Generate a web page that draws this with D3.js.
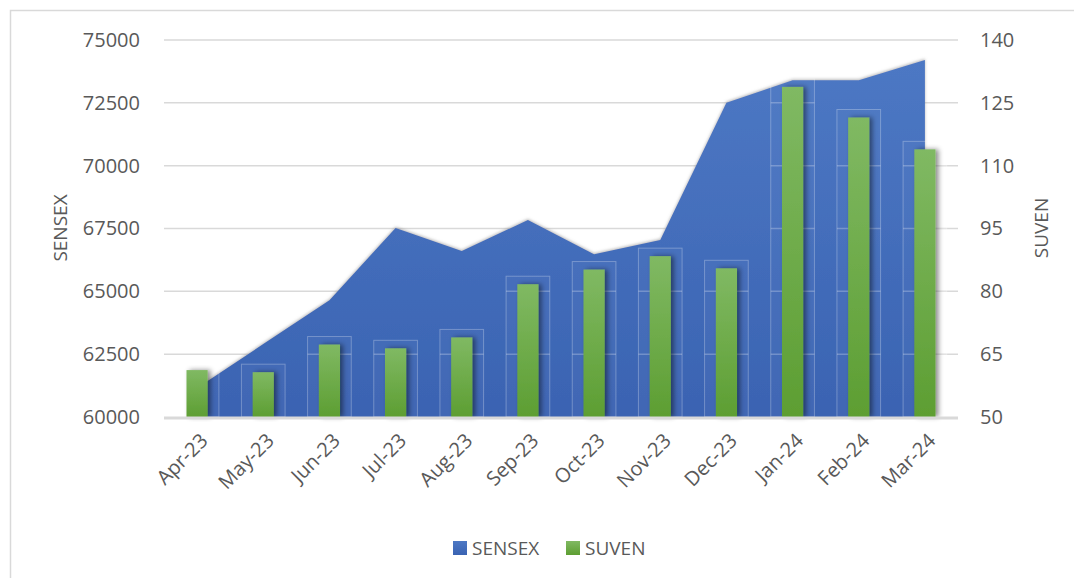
<!DOCTYPE html>
<html>
<head>
<meta charset="utf-8">
<script src="https://cdn.jsdelivr.net/npm/d3@7"></script>
<style>
  body { margin: 0; background: #fff; }
  svg text { font-family: "Open Sans", sans-serif; fill: #595959; }
</style>
</head>
<body>
<div id="chart"></div>
<script>
var months = ['Apr-23', 'May-23', 'Jun-23', 'Jul-23', 'Aug-23', 'Sep-23',
    'Oct-23', 'Nov-23', 'Dec-23', 'Jan-24', 'Feb-24', 'Mar-24'];
var sensex = [61150, 62900, 64650, 67520, 66600, 67840,
    66480, 67040, 72500, 73400, 73400, 74200];
var suven = [61.2, 60.7, 67.3, 66.4, 69.0, 81.7,
    85.2, 88.4, 85.5, 128.8, 121.5, 113.9];
var sensexTicks = [60000, 62500, 65000, 67500, 70000, 72500, 75000];
var suvenTicks = [50, 65, 80, 95, 110, 125, 140];

var chart_width = 1074;
var chart_height = 578;
var plot_left = 164, plot_right = 958, plot_top = 40, plot_bottom = 417;

var svg = d3.select('#chart')
    .append('svg')
    .attr('width', chart_width)
    .attr('height', chart_height);

var defs = svg.append('defs');

var blueGrad = defs.append('linearGradient')
    .attr('id', 'blue-grad')
    .attr('x1', 0).attr('y1', 0).attr('x2', 0).attr('y2', 1);
blueGrad.append('stop').attr('offset', '0%').attr('stop-color', '#4d78c4');
blueGrad.append('stop').attr('offset', '100%').attr('stop-color', '#3a63b2');

var greenGrad = defs.append('linearGradient')
    .attr('id', 'green-grad')
    .attr('x1', 0).attr('y1', 0).attr('x2', 0).attr('y2', 1);
greenGrad.append('stop').attr('offset', '0%').attr('stop-color', '#80b963');
greenGrad.append('stop').attr('offset', '100%').attr('stop-color', '#5d9e32');

defs.append('filter')
    .attr('id', 'bar-shadow')
    .attr('x', '-50%').attr('y', '-10%').attr('width', '200%').attr('height', '120%')
    .append('feDropShadow')
    .attr('dx', 3).attr('dy', 0).attr('stdDeviation', 2.5)
    .attr('flood-color', '#000').attr('flood-opacity', 0.45);

defs.append('filter')
    .attr('id', 'area-shadow')
    .attr('x', '-5%').attr('y', '-10%').attr('width', '110%').attr('height', '120%')
    .append('feDropShadow')
    .attr('dx', 0).attr('dy', -1).attr('stdDeviation', 1.5)
    .attr('flood-color', '#888').attr('flood-opacity', 0.6);

// chart border
svg.append('rect')
    .attr('x', 10.5).attr('y', 10.5)
    .attr('width', 1100).attr('height', 600)
    .attr('fill', 'none')
    .attr('stroke', '#d9d9d9')
    .attr('stroke-width', 1.5);

var x_scale = d3.scaleBand()
    .domain(months)
    .range([plot_left, plot_right]);

var y_left = d3.scaleLinear()
    .domain([60000, 75000])
    .range([plot_bottom, plot_top]);

var y_right = d3.scaleLinear()
    .domain([50, 140])
    .range([plot_bottom, plot_top]);

// gridlines
svg.append('g')
    .selectAll('line')
    .data(sensexTicks.slice(1))
    .enter()
    .append('line')
    .attr('x1', plot_left).attr('x2', plot_right)
    .attr('y1', function (d) { return y_left(d); })
    .attr('y2', function (d) { return y_left(d); })
    .attr('stroke', '#d9d9d9')
    .attr('stroke-width', 1.5);

// left axis
var left_axis = d3.axisLeft(y_left).tickValues(sensexTicks)
    .tickFormat(d3.format('d')).tickSize(0).tickPadding(24);
svg.append('g')
    .attr('transform', 'translate(' + plot_left + ',0)')
    .call(left_axis)
    .call(function (g) { g.select('.domain').remove(); })
    .selectAll('text')
    .style('font-size', '20px');

// right axis
var right_axis = d3.axisRight(y_right).tickValues(suvenTicks).tickSize(0).tickPadding(22);
svg.append('g')
    .attr('transform', 'translate(' + plot_right + ',0)')
    .call(right_axis)
    .call(function (g) { g.select('.domain').remove(); })
    .selectAll('text')
    .style('font-size', '20px');

// SENSEX area
var area = d3.area()
    .x(function (d, i) { return x_scale(months[i]) + x_scale.bandwidth() / 2; })
    .y0(plot_bottom)
    .y1(function (d) { return y_left(d); });

svg.append('path')
    .datum(sensex)
    .attr('d', area)
    .attr('fill', 'url(#blue-grad)')
    .attr('filter', 'url(#area-shadow)');

// glow boxes around SUVEN bars
var boxW = x_scale.bandwidth() * 0.66;
var boxes = svg.append('g')
    .selectAll('g')
    .data(suven)
    .enter()
    .append('g');

boxes.append('rect')
    .attr('x', function (d, i) { return x_scale(months[i]) + (x_scale.bandwidth() - boxW) / 2; })
    .attr('y', function (d) { return y_right(d) - 8; })
    .attr('width', boxW)
    .attr('height', function (d) { return plot_bottom - y_right(d) + 8; })
    .attr('fill', 'rgba(255,255,255,0.03)')
    .attr('stroke', 'rgba(255,255,255,0.28)')
    .attr('stroke-width', 1);

boxes.each(function (d, i) {
    var g = d3.select(this);
    var x0 = x_scale(months[i]) + (x_scale.bandwidth() - boxW) / 2;
    suvenTicks.slice(1).forEach(function (t) {
        if (y_right(t) > y_right(d) - 8) {
            g.append('line')
                .attr('x1', x0).attr('x2', x0 + boxW)
                .attr('y1', y_right(t)).attr('y2', y_right(t))
                .attr('stroke', 'rgba(255,255,255,0.25)')
                .attr('stroke-width', 1.5);
        }
    });
});

// SUVEN bars
var barW = x_scale.bandwidth() * 0.32;
svg.append('g')
    .selectAll('rect')
    .data(suven)
    .enter()
    .append('rect')
    .attr('x', function (d, i) { return x_scale(months[i]) + (x_scale.bandwidth() - barW) / 2; })
    .attr('y', function (d) { return y_right(d); })
    .attr('width', barW)
    .attr('height', function (d) { return plot_bottom - y_right(d); })
    .attr('fill', 'url(#green-grad)')
    .attr('filter', 'url(#bar-shadow)');

// baseline
svg.append('line')
    .attr('x1', plot_left).attr('x2', plot_right)
    .attr('y1', plot_bottom + 1).attr('y2', plot_bottom + 1)
    .attr('stroke', '#d9d9d9')
    .attr('stroke-width', 3);

// x labels
var x_axis = d3.axisBottom(x_scale).tickSize(0).tickPadding(0);
svg.append('g')
    .attr('transform', 'translate(0,' + plot_bottom + ')')
    .call(x_axis)
    .call(function (g) { g.select('.domain').remove(); })
    .selectAll('text')
    .style('font-size', '20px')
    .style('text-anchor', 'end')
    .attr('dy', 0)
    .attr('transform', 'translate(12,25) rotate(-45)');

// axis titles
svg.append('text')
    .attr('transform', 'translate(67,228) rotate(-90)')
    .style('text-anchor', 'middle')
    .style('font-size', '19px')
    .text('SENSEX');

svg.append('text')
    .attr('transform', 'translate(1048,228) rotate(-90)')
    .style('text-anchor', 'middle')
    .style('font-size', '19px')
    .text('SUVEN');

// legend
var legend = svg.append('g');
var items = [['SENSEX', 'url(#blue-grad)', 453], ['SUVEN', 'url(#green-grad)', 566]];
items.forEach(function (it) {
    legend.append('rect')
        .attr('x', it[2]).attr('y', 541)
        .attr('width', 14).attr('height', 14)
        .attr('fill', it[1]);
    legend.append('text')
        .attr('x', it[2] + 19).attr('y', 555)
        .style('font-size', '19px')
        .text(it[0]);
});
</script>
</body>
</html>
